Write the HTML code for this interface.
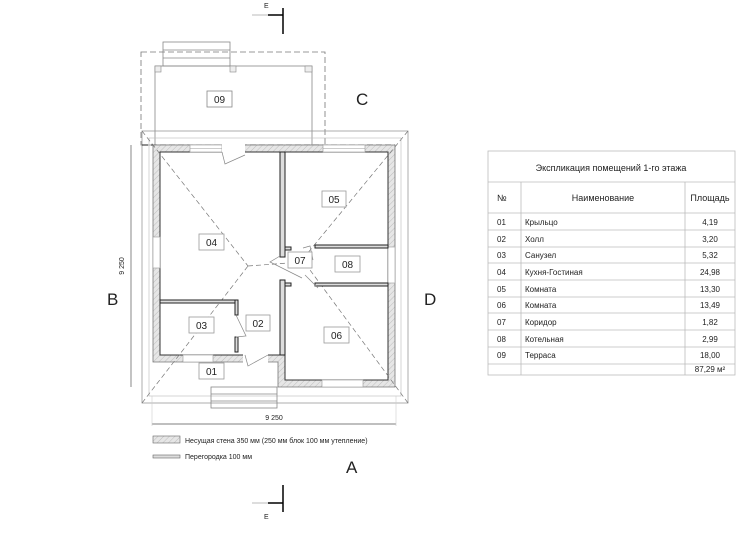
<!DOCTYPE html>
<html><head><meta charset="utf-8"><style>
body{margin:0;background:#fff;width:740px;height:550px;overflow:hidden}
svg{display:block}
text{font-family:"Liberation Sans",sans-serif;fill:#222}
</style></head><body>
<svg width="740" height="550" viewBox="0 0 740 550" xmlns="http://www.w3.org/2000/svg">
<defs>
<pattern id="h" width="4" height="4" patternUnits="userSpaceOnUse" patternTransform="rotate(45)">
<rect width="4" height="4" fill="#e6e6e6"/><line x1="0" y1="0" x2="0" y2="4" stroke="#bdbdbd" stroke-width="1"/>
</pattern>
</defs>
<text x="264" y="8" font-size="7">E</text>
<line x1="252" y1="15" x2="283" y2="15" stroke="#bbb"/>
<line x1="268" y1="15" x2="283" y2="15" stroke="#000" stroke-width="1.5"/>
<line x1="283" y1="8" x2="283" y2="34" stroke="#000" stroke-width="1.5"/>
<line x1="252" y1="503" x2="283" y2="503" stroke="#bbb"/>
<line x1="268" y1="503" x2="283" y2="503" stroke="#000" stroke-width="1.5"/>
<line x1="283" y1="485" x2="283" y2="512" stroke="#000" stroke-width="1.5"/>
<text x="264" y="519" font-size="7">E</text>
<text x="356" y="105" font-size="17">C</text>
<text x="107" y="305" font-size="17">B</text>
<text x="424" y="305" font-size="17">D</text>
<text x="346" y="473" font-size="17">A</text>
<rect x="163" y="42" width="67" height="24" fill="none" stroke="#888" stroke-width="0.8"/>
<line x1="163" y1="50" x2="230" y2="50" stroke="#888" stroke-width="0.8"/>
<line x1="163" y1="58" x2="230" y2="58" stroke="#888" stroke-width="0.8"/>
<rect x="155" y="66" width="157" height="80" fill="none" stroke="#888" stroke-width="0.8"/>
<rect x="155" y="66" width="6" height="6" fill="#eee" stroke="#888" stroke-width="0.6"/>
<rect x="230" y="66" width="6" height="6" fill="#eee" stroke="#888" stroke-width="0.6"/>
<rect x="305" y="66" width="7" height="6" fill="#eee" stroke="#888" stroke-width="0.6"/>
<rect x="141" y="52" width="184" height="93" fill="none" stroke="#777" stroke-width="0.8" stroke-dasharray="6,3"/>
<rect x="207" y="91" width="25" height="16" fill="#fff" stroke="#888" stroke-width="0.8"/>
<text x="219.5" y="103" font-size="10" text-anchor="middle">09</text>
<rect x="142" y="131" width="266" height="272" fill="none" stroke="#999" stroke-width="0.8"/>
<rect x="149" y="138" width="252" height="258" fill="none" stroke="#bbb" stroke-width="0.6"/>
<line x1="142" y1="145" x2="395" y2="145" stroke="#222" stroke-width="1" stroke-dasharray="6,3"/>
<polygon points="153,145 395,145 395,387 278,387 278,362 153,362" fill="url(#h)" stroke="#777" stroke-width="0.8"/>
<polygon points="160,152 388,152 388,380 285,380 285,355 160,355" fill="#fff" stroke="#333" stroke-width="1"/>
<g fill="#fff" stroke="#999" stroke-width="0.6">
<rect x="190" y="145" width="32" height="7"/><rect x="323" y="145" width="42" height="7"/>
<rect x="153" y="237" width="7" height="31"/><rect x="388" y="247" width="7" height="36"/>
<rect x="183" y="355" width="30" height="7"/><rect x="322" y="380" width="41" height="7"/>
</g>
<g fill="#fff" stroke="none"><rect x="222" y="144" width="23" height="9"/><rect x="243" y="354" width="25" height="9"/></g>
<line x1="190" y1="148.5" x2="222" y2="148.5" stroke="#999" stroke-width="0.6"/>
<line x1="323" y1="148.5" x2="365" y2="148.5" stroke="#999" stroke-width="0.6"/>
<g stroke="#777" stroke-width="0.7" stroke-dasharray="5,3" fill="none">
<line x1="142" y1="131" x2="248" y2="266"/><line x1="408" y1="131" x2="302" y2="260"/>
<line x1="142" y1="403" x2="248" y2="266"/><line x1="408" y1="403" x2="310" y2="270"/>
<line x1="248" y1="266" x2="302" y2="262"/>
</g>
<g fill="#ddd" stroke="#222" stroke-width="1">
<rect x="280" y="152" width="5" height="105"/>
<rect x="280" y="280" width="5" height="75"/>
<rect x="315" y="245" width="73" height="3"/>
<rect x="315" y="283" width="73" height="3"/>
<rect x="160" y="300" width="76" height="3"/>
<rect x="235" y="300" width="3" height="15"/>
<rect x="235" y="337" width="3" height="15"/>
<rect x="285" y="247" width="6" height="3"/><rect x="285" y="283" width="6" height="3"/>
</g>
<g stroke="#888" stroke-width="0.7" fill="none">
<polyline points="222,152 225,164 245,155"/>
<polyline points="245,355 248,366 268,355"/>
<polyline points="236,315 246,336 236,337"/>
<polyline points="280,256 270,262 302,278"/>
<polyline points="303,248 310,246 313,260"/>
<polyline points="305,275 318,288"/>
</g>
<g stroke="#888" stroke-width="0.8" fill="none">
<rect x="211" y="387" width="66" height="21"/><line x1="211" y1="394" x2="277" y2="394"/><line x1="211" y1="401" x2="277" y2="401"/>
</g>
<line x1="131" y1="145" x2="131" y2="387" stroke="#555" stroke-width="0.7"/>
<text x="124" y="266" font-size="7" transform="rotate(-90 124 266)" text-anchor="middle">9 250</text>
<line x1="152" y1="424" x2="396" y2="424" stroke="#555" stroke-width="0.7"/>
<line x1="152" y1="396" x2="152" y2="426" stroke="#ccc" stroke-width="0.6"/>
<line x1="396" y1="396" x2="396" y2="426" stroke="#ccc" stroke-width="0.6"/>
<text x="274" y="424" font-size="7" text-anchor="middle" dy="-4">9 250</text>
<g fill="#fff" stroke="#999" stroke-width="0.8">
<rect x="322" y="191" width="24" height="16"/><rect x="199" y="234" width="25" height="16"/>
<rect x="288" y="252" width="24" height="16"/><rect x="335" y="256" width="25" height="16"/>
<rect x="189" y="317" width="25" height="16"/><rect x="246" y="315" width="24" height="16"/>
<rect x="324" y="327" width="25" height="16"/><rect x="199" y="363" width="25" height="16"/>
</g>
<g font-size="10" text-anchor="middle">
<text x="334" y="203">05</text><text x="211.5" y="246">04</text><text x="300" y="264">07</text>
<text x="347.5" y="268">08</text><text x="201.5" y="329">03</text><text x="258" y="327">02</text>
<text x="336.5" y="339">06</text><text x="211.5" y="375">01</text>
</g>
<rect x="153" y="436" width="27" height="7" fill="url(#h)" stroke="#666" stroke-width="0.6"/>
<text x="185" y="443" font-size="7">Несущая стена 350 мм (250 мм блок 100 мм утепление)</text>
<rect x="153" y="455" width="27" height="3" fill="#ddd" stroke="#666" stroke-width="0.6"/>
<text x="185" y="459" font-size="7">Перегородка 100 мм</text>
<g stroke="#bbb" stroke-width="0.8" fill="none">
<rect x="488" y="151" width="247" height="224"/>
<line x1="488" y1="182" x2="735" y2="182"/><line x1="488" y1="213" x2="735" y2="213"/>
<line x1="488" y1="230" x2="735" y2="230"/><line x1="488" y1="247" x2="735" y2="247"/>
<line x1="488" y1="263" x2="735" y2="263"/><line x1="488" y1="280" x2="735" y2="280"/>
<line x1="488" y1="297" x2="735" y2="297"/><line x1="488" y1="313" x2="735" y2="313"/>
<line x1="488" y1="330" x2="735" y2="330"/><line x1="488" y1="347" x2="735" y2="347"/>
<line x1="488" y1="364" x2="735" y2="364"/>
<line x1="521" y1="182" x2="521" y2="375"/><line x1="685" y1="182" x2="685" y2="375"/>
</g>
<text x="611" y="171" font-size="9" text-anchor="middle">Экспликация помещений 1-го этажа</text>
<g font-size="9"><text x="497" y="201">№</text><text x="603" y="201" text-anchor="middle">Наименование</text><text x="710" y="201" text-anchor="middle">Площадь</text></g>
<g font-size="8">
<text x="497" y="225">01</text><text x="525" y="225">Крыльцо</text><text x="710" y="225" text-anchor="middle">4,19</text>
<text x="497" y="242">02</text><text x="525" y="242">Холл</text><text x="710" y="242" text-anchor="middle">3,20</text>
<text x="497" y="258">03</text><text x="525" y="258">Санузел</text><text x="710" y="258" text-anchor="middle">5,32</text>
<text x="497" y="275">04</text><text x="525" y="275">Кухня-Гостиная</text><text x="710" y="275" text-anchor="middle">24,98</text>
<text x="497" y="292">05</text><text x="525" y="292">Комната</text><text x="710" y="292" text-anchor="middle">13,30</text>
<text x="497" y="308">06</text><text x="525" y="308">Комната</text><text x="710" y="308" text-anchor="middle">13,49</text>
<text x="497" y="325">07</text><text x="525" y="325">Коридор</text><text x="710" y="325" text-anchor="middle">1,82</text>
<text x="497" y="342">08</text><text x="525" y="342">Котельная</text><text x="710" y="342" text-anchor="middle">2,99</text>
<text x="497" y="358">09</text><text x="525" y="358">Терраса</text><text x="710" y="358" text-anchor="middle">18,00</text>
<text x="710" y="372" text-anchor="middle">87,29 м²</text>
</g>
</svg>
</body></html>
